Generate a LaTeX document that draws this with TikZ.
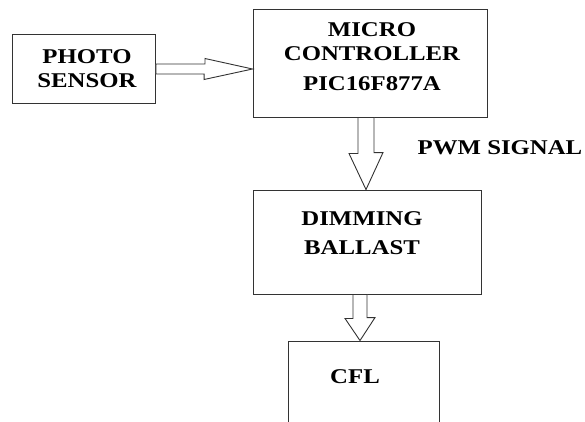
\documentclass[tikz,border=0pt]{standalone}
\usepackage{fontspec}
\setmainfont{Liberation Serif}[FakeStretch=1.18]
\usetikzlibrary{calc}

\begin{document}
\begin{tikzpicture}[x=1pt,y=-1pt,
    blockbox/.style={draw=black!80,line width=0.9pt,inner sep=0pt},
    hollow/.style={draw=black!80,line width=0.9pt,fill=white,line join=miter},
    lbl/.style={font=\fontsize{21}{24}\selectfont\bfseries,align=center,inner sep=0pt}]
      \useasboundingbox (0,0) rectangle (585,421);

      \node[blockbox,minimum width=143pt,minimum height=69pt] (photo) at (84,68.5) {};
      \node[blockbox,minimum width=234pt,minimum height=108pt] (micro) at (370,63) {};
      \node[blockbox,minimum width=228pt,minimum height=104pt] (ballast) at (367,242) {};
      \begin{scope}
        \clip (0,0) rectangle (585,421);
        \node[blockbox,minimum width=151pt,minimum height=100pt] (cfl) at (363.5,391) {};
      \end{scope}

      \node[lbl] (phototext) at (87,68.5) {PHOTO\\SENSOR};
      \node[lbl] (microtext) at (372,56.5) {MICRO\\CONTROLLER\\[6pt]PIC16F877A};
      \node[lbl] (ballasttext) at (362,233.5) {DIMMING\\[5pt]BALLAST};
      \node[lbl] (cfltext) at (355,377) {CFL};
      \node[lbl] (pwm) at (500,148) {PWM SIGNAL};

      % hollow block arrows
      \draw[hollow] ($(photo.east)+(0,-4.5)$) -- ++(49,0) -- ++(0,-5.5)
        -- ($(micro.west)+(0,6)$) -- ++(-48.5,10.5) -- ++(0,-5.5)
        -- ($(photo.east)+(0,5.5)$) -- cycle;
      \draw[hollow] ($(micro.south)+(-12,0)$) -- ++(0,36) -- ++(-9,0)
        -- ($(ballast.north)+(-1,0)$) -- ++(17,-37) -- ++(-9,0)
        -- ($(micro.south)+(4,0)$) -- cycle;
      \draw[hollow] ($(ballast.south)+(-14,0)$) -- ++(0,24) -- ++(-8,0)
        -- ($(cfl.north)+(-3.5,0)$) -- ++(15,-23) -- ++(-8,0)
        -- (ballast.south) -- cycle;
\end{tikzpicture}
\end{document}
